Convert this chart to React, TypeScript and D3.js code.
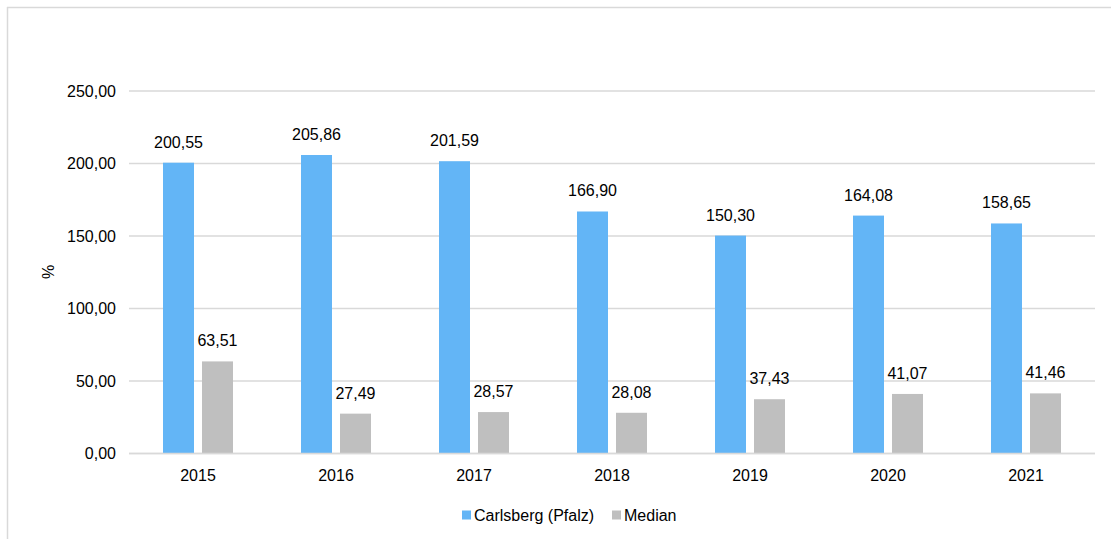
import React from "react";
import * as d3 from "d3";

const categories = ["2015", "2016", "2017", "2018", "2019", "2020", "2021"];
const carlsberg = [200.55, 205.86, 201.59, 166.9, 150.3, 164.08, 158.65];
const median = [63.51, 27.49, 28.57, 28.08, 37.43, 41.07, 41.46];
const yTicks = [0, 50, 100, 150, 200, 250];
const seriesNames = ["Carlsberg (Pfalz)", "Median"];
const colors = ["#63B5F6", "#BFBFBF"];

const W = 1111;
const H = 539;
const fmt = (v: number) => v.toFixed(2).replace(".", ",");

export default function App() {
  const x0 = 129, x1 = 1095;
  const y = d3.scaleLinear().domain([0, 250]).range([453.5, 91]);
  const x = d3.scaleBand().domain(categories).range([x0, x1]).padding(0);
  const barW = 31;
  const gap = 8;
  const font = "'Liberation Sans', Arial, sans-serif";
  const fs = 16;
  return (
    <svg width={W} height={H} style={{ position: "absolute", left: 0, top: 0, background: "#fff" }}>
      <rect x={0} y={0} width={W} height={H} fill="#fff" />
      <line x1={7} y1={7.5} x2={W} y2={7.5} stroke="#D9D9D9" strokeWidth={1.5} />
      <line x1={7.5} y1={7} x2={7.5} y2={H} stroke="#D9D9D9" strokeWidth={1.5} />
      {yTicks.map((t) => (
        <g key={t}>
          <line x1={x0} x2={x1} y1={y(t)} y2={y(t)} stroke="#D9D9D9" strokeWidth={1.5} />
          <text x={116} y={y(t)} dy="0.35em" textAnchor="end" fontFamily={font} fontSize={fs} fill="#000">
            {fmt(t)}
          </text>
        </g>
      ))}
      {categories.map((c, i) => {
        const cx = (x(c) as number) + x.bandwidth() / 2;
        const bx = cx - gap / 2 - barW;
        const gx = cx + gap / 2;
        return (
          <g key={c}>
            <rect x={bx} y={y(carlsberg[i])} width={barW} height={y(0) - y(carlsberg[i])} fill={colors[0]} />
            <rect x={gx} y={y(median[i])} width={barW} height={y(0) - y(median[i])} fill={colors[1]} />
            <text x={bx + barW / 2} y={y(carlsberg[i]) - 15} textAnchor="middle" fontFamily={font} fontSize={fs} fill="#000">
              {fmt(carlsberg[i])}
            </text>
            <text x={gx + barW / 2} y={y(median[i]) - 15} textAnchor="middle" fontFamily={font} fontSize={fs} fill="#000">
              {fmt(median[i])}
            </text>
            <text x={cx} y={y(0) + 27} textAnchor="middle" fontFamily={font} fontSize={fs} fill="#000">
              {c}
            </text>
          </g>
        );
      })}
      <line x1={x0} x2={x1} y1={y(0)} y2={y(0)} stroke="#D9D9D9" strokeWidth={1.5} />
      <text transform={`translate(54,272) rotate(-90)`} textAnchor="middle" fontFamily={font} fontSize={fs} fill="#000">
        %
      </text>
      <rect x={462} y={510.5} width={9} height={9} fill={colors[0]} />
      <text x={474} y={515} dy="0.35em" fontFamily={font} fontSize={fs} fill="#000">{seriesNames[0]}</text>
      <rect x={612} y={510.5} width={9} height={9} fill={colors[1]} />
      <text x={624} y={515} dy="0.35em" fontFamily={font} fontSize={fs} fill="#000">{seriesNames[1]}</text>
    </svg>
  );
}
